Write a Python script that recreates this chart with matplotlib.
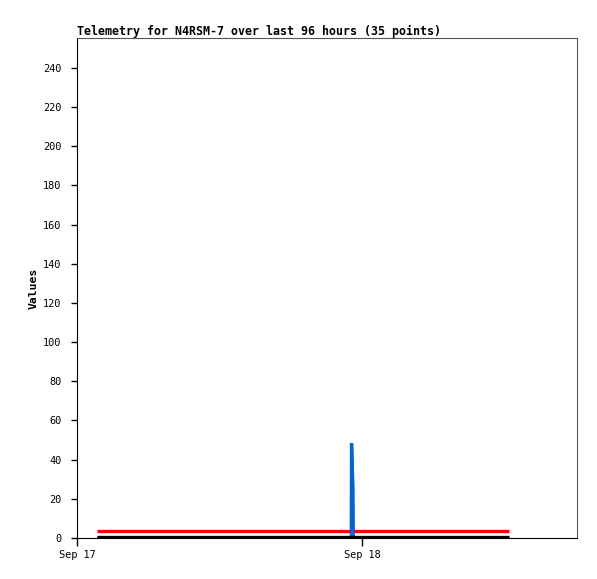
import matplotlib
matplotlib.use("Agg")
import matplotlib.pyplot as plt
import matplotlib.dates as mdates
from datetime import datetime, timedelta

# hours after Sep 17 00:00 for the 35 samples
hours = [1.7, 3.0, 4.5, 6.0, 7.5, 9.0, 10.5, 12.0, 13.5, 15.0,
         16.5, 18.0, 19.5, 21.0, 22.5, 23.0, 23.1, 23.12, 23.24, 23.27,
         24.0, 25.0, 26.0, 27.0, 28.0, 29.0, 30.0, 31.0, 32.0, 33.0,
         34.0, 35.0, 35.5, 36.0, 36.4]
blue_vals = [0, 0, 0, 0, 0, 0, 0, 0, 0, 0,
             0, 0, 0, 0, 0, 0, 0, 48.5, 24.5, 0,
             0, 0, 0, 0, 0, 0, 0, 0, 0, 0,
             0, 0, 0, 0, 0]
red_vals = [3.8] * 35
black_vals = [0.3] * 35

t0 = datetime(2023, 9, 17)
times = [t0 + timedelta(hours=h) for h in hours]

MONO = ["DejaVu Sans Mono"]
plt.rcParams["font.family"] = MONO

fig = plt.figure(figsize=(5.97, 5.79), dpi=100)
ax = fig.add_axes([77 / 597, 41 / 579, 500 / 597, 500 / 579])

line_kw = dict(lw=2.4, solid_capstyle="butt", solid_joinstyle="bevel")
ax.plot(times, red_vals, color="#FF0000", zorder=2, **line_kw)
ax.plot(times, blue_vals, color="#0066CC", zorder=3, **line_kw)
ax.plot(times, black_vals, color="#000000", zorder=4, **line_kw)

ax.set_xlim(t0, t0 + timedelta(days=500 / 285))
ax.set_ylim(0, 255.3)
ax.set_yticks(range(0, 241, 20))
ax.xaxis.set_major_locator(mdates.DayLocator())
ax.xaxis.set_major_formatter(mdates.DateFormatter("%b %d"))

ax.tick_params(axis="y", length=4.3, width=1, labelsize=7.4, pad=7)
ax.tick_params(axis="x", length=5.8, width=1, labelsize=7.4, pad=3)

for s in ("left", "bottom"):
    ax.spines[s].set_color("black")
for s in ("top", "right"):
    ax.spines[s].set_color("#555555")

ax.set_ylabel("Values", fontsize=8.2, fontweight="bold", labelpad=3)
ax.set_title("Telemetry for N4RSM-7 over last 96 hours (35 points)",
             loc="left", fontsize=8.4, fontweight="bold", pad=2)

fig.savefig("out.png", dpi=100, facecolor="white")
